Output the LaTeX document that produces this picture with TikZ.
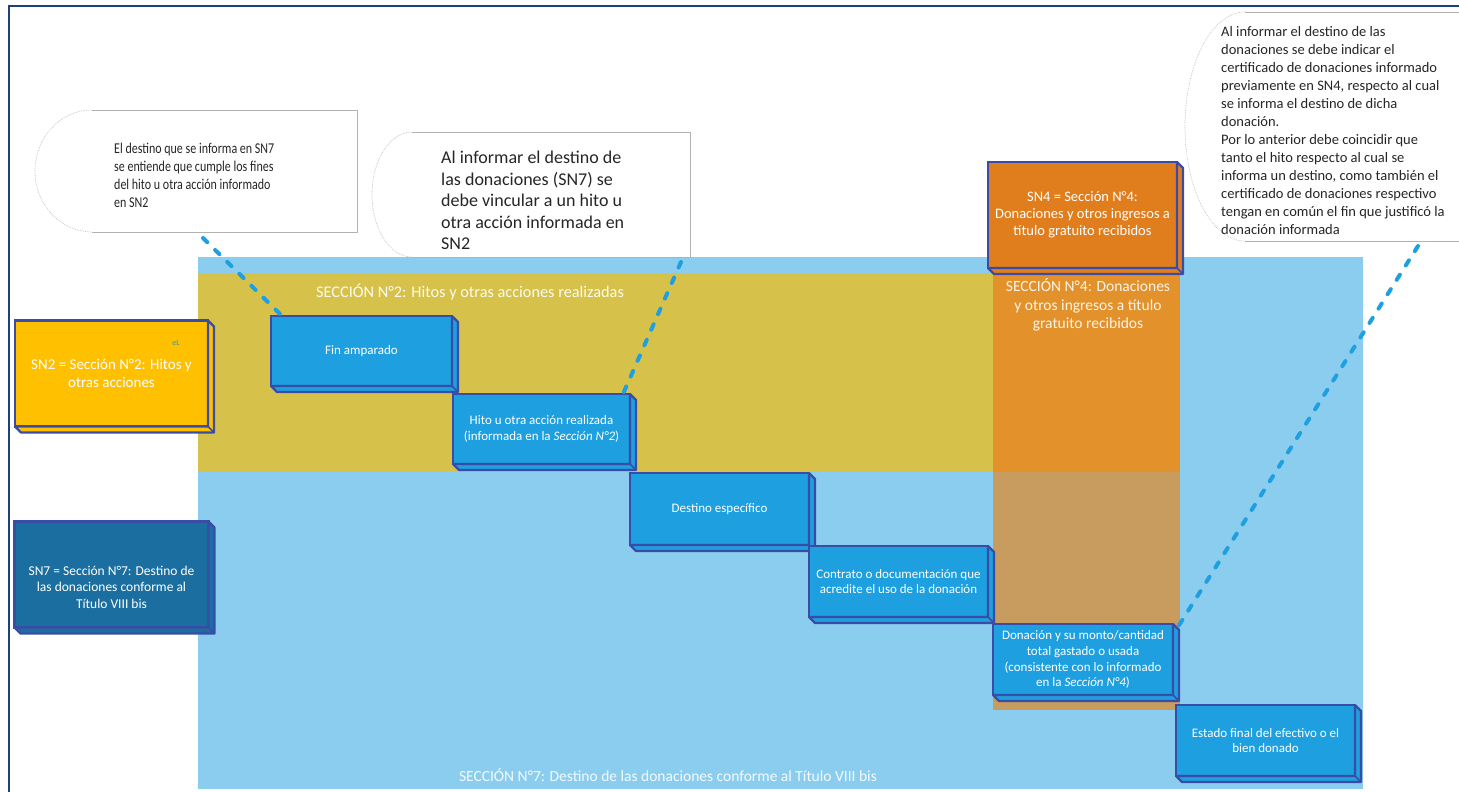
\documentclass[tikz,border=0pt]{standalone}
\usepackage{fontspec}
\setmainfont{Carlito}
\newfontfamily\condfont[FakeStretch=0.8]{Carlito}
\usetikzlibrary{calc}
\definecolor{frameblue}{HTML}{203F7F}
\definecolor{bgblue}{HTML}{8BCDEF}
\definecolor{oliveband}{HTML}{D6C24A}
\definecolor{orangeup}{HTML}{E3912B}
\definecolor{boxtan}{HTML}{C89B5F}
\definecolor{stepfill}{HTML}{1E9FE0}
\definecolor{stepborder}{HTML}{3A4DA6}
\definecolor{sntwo}{HTML}{FFC000}
\definecolor{snseven}{HTML}{1B6FA0}
\definecolor{snfour}{HTML}{E07E1E}
\definecolor{dashblue}{HTML}{1E9FE0}
\definecolor{calltext}{HTML}{262626}
\tikzset{
  face/.style={draw=stepborder, line width=2.2pt, outer sep=0pt, inner sep=2pt, text=white, align=center},
  stepbox/.style={face, fill=stepfill, minimum width=179pt, minimum height=71pt, font=\fontsize{13}{15.9}\selectfont},
  snbox/.style={face, minimum width=193pt, minimum height=106pt},
  seclabel/.style={align=center, font=\fontsize{15.5}{18.5}\selectfont},
  calltxt/.style={anchor=north west, inner sep=0pt, align=left, text=calltext},
  dashlink/.style={draw=dashblue, line width=4pt, dash pattern=on 6pt off 11pt, line cap=round},
}
\newcommand\extrude[2]{%
  \filldraw[fill=#2, draw=stepborder, line width=2.2pt, line join=round]
    (#1.south west) -- ++(6,6) -- ($(#1.south east)+(6,6)$) -- ($(#1.north east)+(6,6)$)
    -- (#1.north east) -- (#1.south east) -- cycle;
  \draw[stepborder, line width=1.6pt] (#1.south east) -- ++(6,6);}
\newcommand\bubble[5]{% left x, top y, right x, bottom y, x radius
  \pgfmathsetmacro\bmid{(#2+#4)/2}%
  \pgfmathsetmacro\bry{(#4-#2)/2}%
  \pgfmathsetmacro\bax{#1+#5}%
  \pgfmathsetmacro\bkx{0.5523*#5}%
  \pgfmathsetmacro\bky{0.5523*\bry}%
  \fill[white] (#3,#2) -- (\bax,#2) .. controls (\bax-\bkx,#2) and (#1,\bmid-\bky) .. (#1,\bmid)
     .. controls (#1,\bmid+\bky) and (\bax-\bkx,#4) .. (\bax,#4) -- (#3,#4) -- cycle;
  \draw[gray!60, line width=0.8pt] (\bax,#2) -- (#3,#2) -- (#3,#4) -- (\bax,#4);
  \draw[gray!50, line width=0.7pt, densely dotted] (\bax,#2) .. controls (\bax-\bkx,#2) and (#1,\bmid-\bky) .. (#1,\bmid)
     .. controls (#1,\bmid+\bky) and (\bax-\bkx,#4) .. (\bax,#4);}
\begin{document}
\begin{tikzpicture}[x=1pt,y=-1pt]
\useasboundingbox (0,0) rectangle (1459,792);
\clip (0,0) rectangle (1459,792);
\fill[white] (0,0) rectangle (1459,792);
% frame
\draw[frameblue, line width=2.5pt] (9,795) -- (9,6) -- (1462,6);
% section areas
\fill[bgblue] (198,257) rectangle (1363,789);
\fill[oliveband] (198,273) rectangle (993,472);
\fill[orangeup] (993,273) rectangle (1180,472);
\fill[boxtan] (993,472) rectangle (1180,710);
% section labels
\node[seclabel, font=\fontsize{16.3}{19}\selectfont, text=white!92!oliveband] (sec2) at (470,292) {SECCIÓN N°2: Hitos y otras acciones realizadas};
\node[seclabel, text=white!90!bgblue] (sec7) at (668,775) {SECCIÓN N°7: Destino de las donaciones conforme al Título VIII bis};
\node[seclabel, text=white!90!orangeup] (sec4) at (1088,305) {SECCIÓN N°4: Donaciones\\y otros ingresos a título\\gratuito recibidos};
% callouts
\bubble{35}{110}{357}{232}{57}
\node[calltxt, font=\condfont\fontsize{15}{18}\selectfont] (c1) at (114,142.5)
  {El destino que se informa en SN7\\se entiende que cumple los fines\\del hito u otra acción informado\\en SN2};
\bubble{372}{132}{690}{257}{40}
\node[calltxt, font=\fontsize{18}{21.5}\selectfont] (c2) at (441,151)
  {Al informar el destino de\\las donaciones (SN7) se\\debe vincular a un hito u\\otra acción informada en\\SN2};
\bubble{1185}{12}{1475}{241}{60}
\node[calltxt, font=\fontsize{14.5}{18}\selectfont] (c3) at (1221,26.5)
  {Al informar el destino de las\\donaciones se debe indicar el\\certificado de donaciones informado\\previamente en SN4, respecto al cual\\se informa el destino de dicha\\donación.\\Por lo anterior debe coincidir que\\tanto el hito respecto al cual se\\informa un destino, como también el\\certificado de donaciones respectivo\\tengan en común el fin que justificó la\\donación informada};
% left boxes
\node[snbox, fill=sntwo, font=\fontsize{15}{18.3}\selectfont] (sn2) at (111.5,373.5) {SN2 = Sección N°2: Hitos y\\otras acciones};
\extrude{sn2}{sntwo}
\node[text=dashblue, font=\fontsize{8}{9}\selectfont, inner sep=0pt] (eL) at (176,343) {eL};
\node[snbox, fill=snseven, font=\fontsize{13.5}{16.5}\selectfont, text depth=0pt] (sn7) at (111.5,574.5) {\raisebox{-8pt}{\parbox{190pt}{\centering SN7 = Sección N°7: Destino de\\las donaciones conforme al\\Título VIII bis}}};
\extrude{sn7}{snseven}
\node[snbox, fill=snfour, minimum width=189pt, font=\fontsize{14.5}{17}\selectfont] (sn4) at (1082.5,215) {SN4 = Sección N°4:\\Donaciones y otros ingresos a\\título gratuito recibidos};
\extrude{sn4}{snfour}
% dashed connectors
\coordinate (t1) at (203,238);
\coordinate (t2) at (681,262);
\coordinate (t3) at (1418,246);
% step boxes
\node[stepbox, minimum width=181pt, minimum height=70pt] (fin) at (361.5,351) {Fin amparado};
\node[stepbox, minimum width=177pt, minimum height=70pt] (hito) at (541.5,429) {Hito u otra acción realizada\\(informada en la \textit{Sección N°2})};
\draw[dashlink] (t1) -- ($(fin.north west)+(11,0)$);
\draw[dashlink] (t2) -- ($(hito.north east)+(-7,0)$);
\extrude{fin}{stepfill}
\extrude{hito}{stepfill}
\node[stepbox, minimum height=72pt] (dest) at (719.5,509) {Destino específico};
\extrude{dest}{stepfill}
\node[stepbox] (contr) at (898.5,581.5) {Contrato o documentación que\\acredite el uso de la donación};
\extrude{contr}{stepfill}
\node[stepbox, minimum width=180pt] (don) at (1083,659.5) {Donación y su monto/cantidad\\total gastado o usada\\(consistente con lo informado\\en la \textit{Sección N°4})};
\draw[dashlink] (t3) -- ($(don.north east)+(3,6)$);
\extrude{don}{stepfill}
\node[stepbox] (est) at (1265.5,740.5) {Estado final del efectivo o el\\bien donado};
\extrude{est}{stepfill}
\end{tikzpicture}
\end{document}
